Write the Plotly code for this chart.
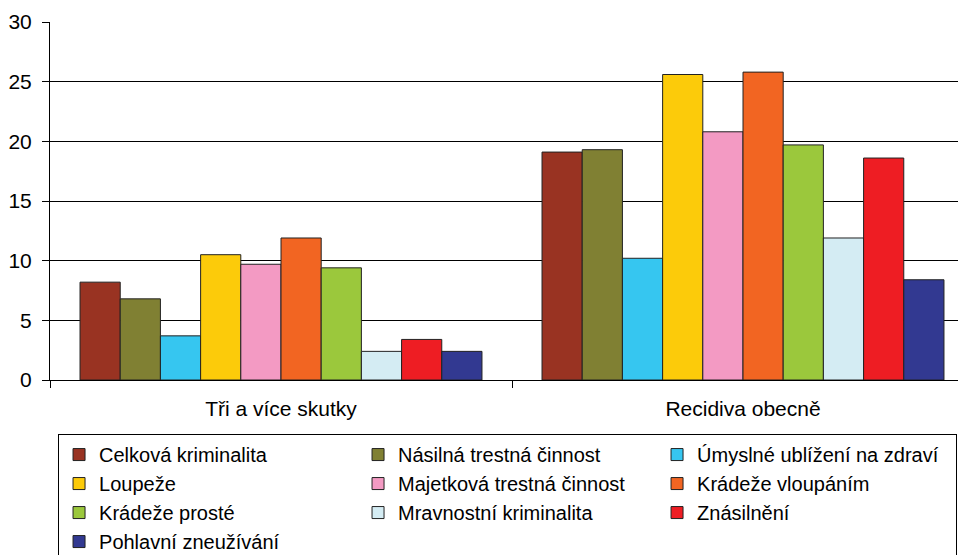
import plotly.graph_objects as go

categories = ["Tři a více skutky", "Recidiva obecně"]
series_names = [
    "Celková kriminalita", "Násilná trestná činnost", "Úmyslné ublížení na zdraví",
    "Loupeže", "Majetková trestná činnost", "Krádeže vloupáním",
    "Krádeže prosté", "Mravnostní kriminalita", "Znásilnění",
    "Pohlavní zneužívání",
]
tri_a_vice = [8.2, 6.8, 3.7, 10.5, 9.7, 11.9, 9.4, 2.4, 3.4, 2.4]
recidiva = [19.1, 19.3, 10.2, 25.6, 20.8, 25.8, 19.7, 11.9, 18.6, 8.4]
colors = ["#993322", "#808033", "#36C6F0", "#FCCB0A", "#F39AC3", "#F26522",
          "#9BC83C", "#D4ECF3", "#EE1D23", "#323991"]
y_ticks = [0, 5, 10, 15, 20, 25, 30]

fig = go.Figure()
for i, name in enumerate(series_names):
    fig.add_trace(go.Bar(
        x=categories, y=[tri_a_vice[i], recidiva[i]], name=name,
        marker=dict(color=colors[i], line=dict(color="#222222", width=1)),
    ))

FONT = "Liberation Sans, Arial, sans-serif"
fig.update_layout(
    width=966, height=555,
    margin=dict(l=42, r=0, t=14, b=183, autoexpand=False),
    paper_bgcolor="white", plot_bgcolor="white",
    barmode="group", bargap=0.13, bargroupgap=0,
    font=dict(family=FONT, color="black", size=21),
    showlegend=True,
    legend=dict(
        orientation="h", x=0.0087, xanchor="left", y=-0.151, yanchor="top",
        entrywidth=254, entrywidthmode="pixels",
        bordercolor="black", borderwidth=1,
        font=dict(size=20, family=FONT), traceorder="normal",
    ),
    xaxis=dict(
        range=[-0.5, 1.5], tickson="boundaries", ticks="outside", ticklen=7,
        tickcolor="black", showline=True, linecolor="black", linewidth=1,
        tickfont=dict(size=21), showgrid=False, automargin=False,
        ticklabelstandoff=10,
    ),
    yaxis=dict(
        range=[0, 30], tickvals=y_ticks, ticks="outside", ticklen=7,
        tickcolor="black", showline=True, linecolor="black", linewidth=1,
        showgrid=True, gridcolor="black", gridwidth=1, automargin=False,
        tickfont=dict(size=21), zeroline=False, ticklabelstandoff=6,
    ),
)

fig.write_html("out.html")
